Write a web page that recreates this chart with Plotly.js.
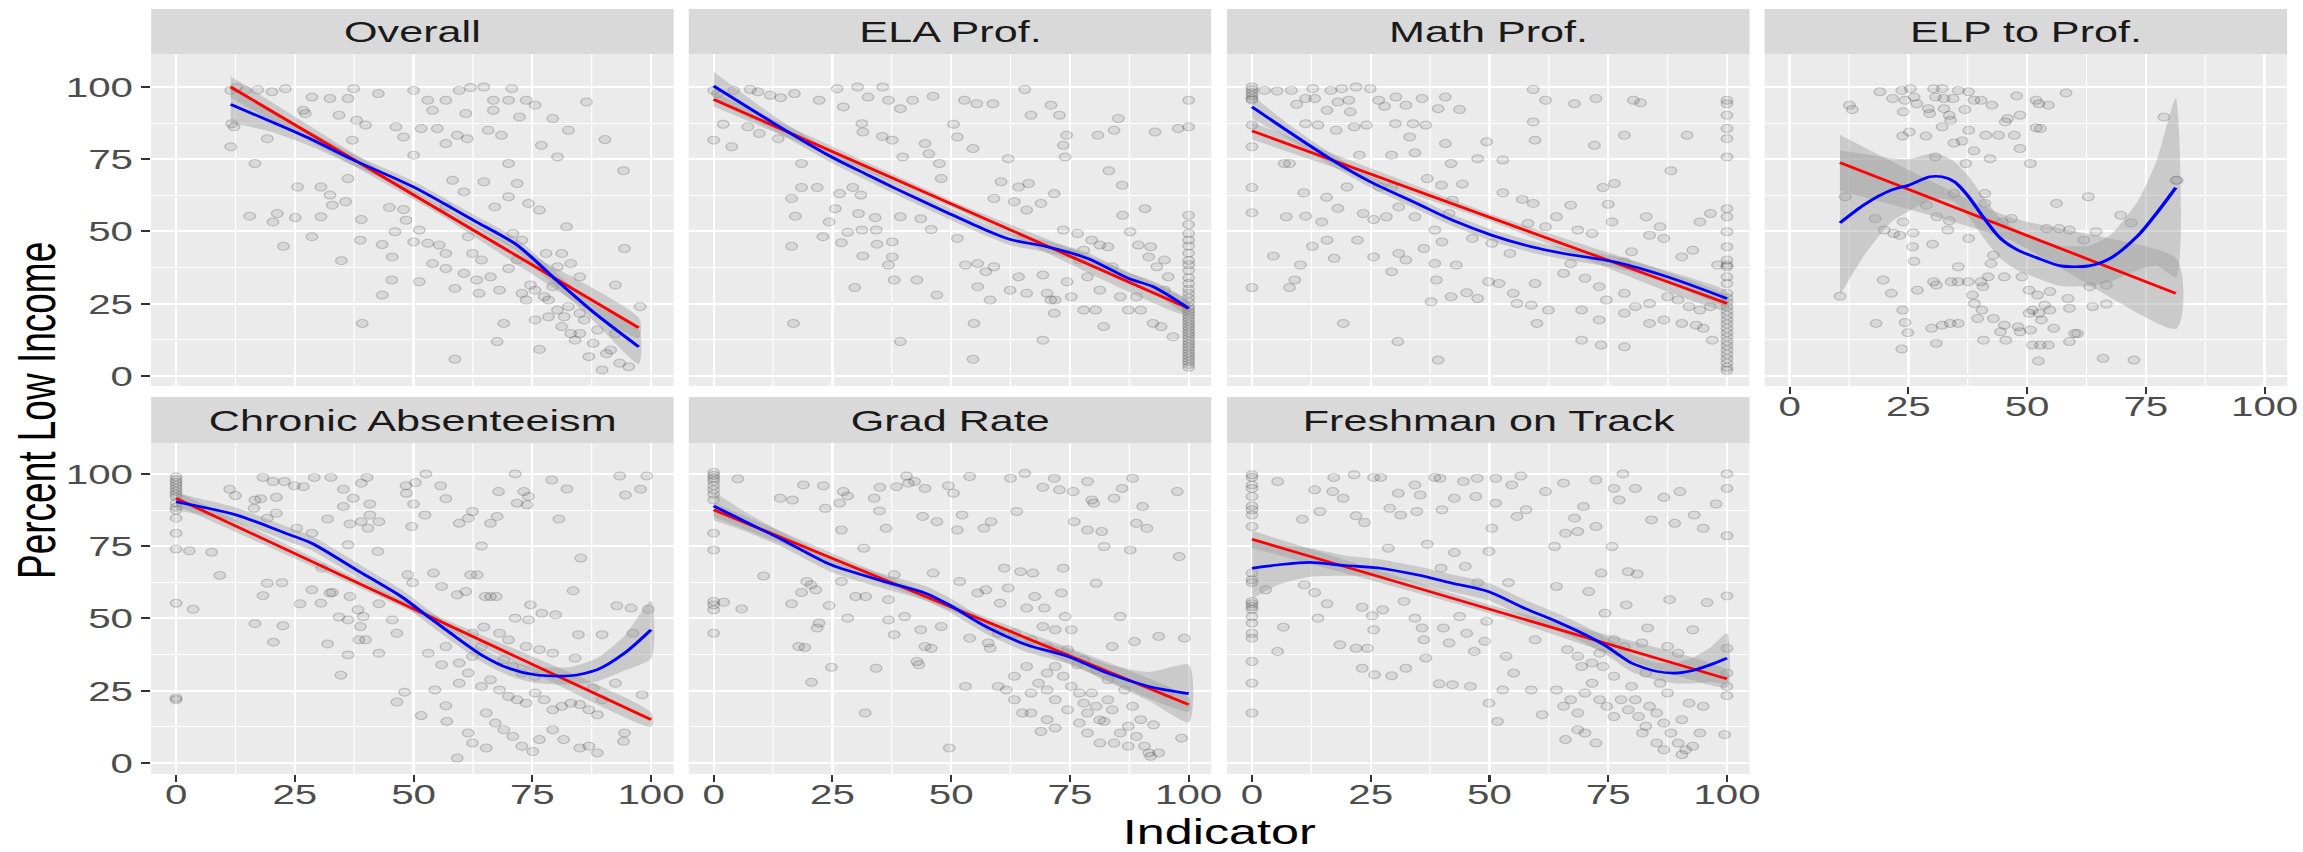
<!DOCTYPE html>
<html>
<head>
<meta charset="utf-8">
<script src="https://cdn.plot.ly/plotly-3.0.1.min.js"></script>
<style>
html,body{margin:0;padding:0;background:#fff;overflow:hidden;width:2303px;height:852px;}
#chart{width:1600px;height:852px;transform:scaleX(1.439375);transform-origin:0 0;}
</style>
</head>
<body>
<div id="chart"></div>
<script>
// ---------------- DATA ----------------
const panelNames = ["Overall", "ELA Prof.", "Math Prof.", "ELP to Prof.", "Chronic Absenteeism", "Grad Rate", "Freshman on Track"];
const xTicks = [0, 25, 50, 75, 100];
const yTicks = [0, 25, 50, 75, 100];

// scatter points [indicator, percent low income]
const overallPts = [
[11.5,98.8],[12.7,99.8],[14.6,98.8],[17.2,99],[20.2,98.3],[23,99.4],[11.7,87.3],[12.2,86.2],[11.5,79.3],[16.6,73.5],[19.2,82.1],[15.5,55.3],[20.4,53.3],[21.3,56.2],[25.1,54.8],[22.6,44.9],[25.6,65.4],[28.6,48.2],[30.5,65.4],[32.4,62.6],[32.9,59.1],[35.7,60.3],[30.5,55.1],[34.8,39.9],[36.2,68.3],[38.8,47],[39,54.1],[39.2,18.2],[43.4,28],[43.4,45.5],[45.4,33.2],[44.9,58.3],[47.9,57.6],[45.5,41.2],[46.1,49.9],[48.4,53.9],[50,46.4],[51.2,50.5],[51.2,32.6],[53,45.9],[55.4,45.3],[56.8,42.4],[58.7,5.8],[58.7,30.3],[61.5,48.2],[62.4,42.4],[64.3,40.1],[63.8,28.6],[66.2,34.3],[67.6,11.9],[69,18.2],[70,37.2],[71.8,40.1],[74.6,31.5],[75.6,19.4],[76.5,9.2],[77.5,27.4],[78.4,20.5],[79.3,30.9],[80.3,37.8],[81.2,17.1],[82.6,24],[84,12.4],[85,21.7],[86.9,6.7],[88.7,15.9],[89.7,2.1],[91.5,9],[92.5,14.7],[93.4,4.4],[95.3,3.2],[97.7,24],[94.2,71],[90.3,81.8],[94.4,44.1],[92.5,31.5],[85,34.3],[82.2,51.6],
[28.6,96.5],[32.4,96],[36.2,96],[37.4,99.4],[42.6,97.7],[50,98.8],[53,95.4],[56.8,95.4],[59.6,98.8],[62,99.8],[64.8,100],[66.8,95.4],[70,95.4],[70.7,99.4],[73.7,95.4],[75.6,93.7],[79.3,89.1],[82.6,85],[86.4,94.8],[72.3,89.6],[66.8,91.9],[61,90.8],[61.3,82.1],[59.2,83.3],[54,91.9],[56.8,80.4],[55,85.6],[51.6,85.6],[50,76.4],[46.3,86.2],[47.9,82.7],[38,88.5],[39.9,86.8],[34.3,90.2],[26.8,91.9],[27.2,90.8],[37.1,81.6],[65.7,85],[68.5,83.3],[76.9,79.8],[70,73.5],[71.8,66.6],[70,62],[76.5,57.4],[64.8,67.2],[60.6,63.7],[58.2,67.7],[67.1,58.5],[74.2,59.7],[80.3,75.8],[56.8,58.5],
[72.8,28.6],[73.7,26.3],[75.6,29.7],[78.4,26.3],[80.3,22.8],[81.7,20.5],[83.1,14.7],[85,14.7],[85.9,19.4],[87.8,11.3],[90.6,7.8],[77.9,42.4],[81.2,42.4],[83.1,38.9],[70.9,49.3],[72.8,47],[60.6,35.5],[56.8,37.2],[54,38.9],[63.3,33.2],[68.1,29.7]
];

const elaPts = [
[0,98.8],[0.8,97.7],[4.2,98.8],[7.7,99.1],[9.3,98.3],[11.9,97.1],[14.1,96.3],[17,97.7],[0,81.6],[2,87.1],[3.8,79.3],[7.2,86.2],[9.6,83.9],[13.6,82.1],
[26,99.4],[30.3,100],[35.6,100],[22.2,95.4],[27.3,93.1],[32.5,96.5],[36.8,95.4],[39.3,92.5],[41.9,95.4],[46.2,96.8],[52.8,95.4],[55.4,94.2],[58.8,94.2],[65.5,99.1],[71,93.7],[72.8,90.2],[66.8,90.2],[100,95.4],[100,86.2],[97.8,85.6],[92.9,84.4],[85.2,89.1],[84.3,85],[80.9,83.3],[74.3,83.3],[73.6,79.8],[74,75.8],[62,75.2],[50.5,87.1],[51.3,82.7],[44.5,80.4],[45.3,76.9],[39.8,75.8],[47.5,73.5],[31.4,84.4],[31.2,87.3],[37.6,81.6],[35.5,82.9],
[18.5,73.5],[18.5,65.2],[21.8,65.2],[16.4,61.4],[26.5,63.1],[29.3,65.2],[31,62.6],[17.2,55.3],[24.3,53.3],[25.6,57.9],[28.2,49.7],[30.5,56.2],[31.2,50.5],[34.2,50.5],[34,54.8],[37.6,46.4],[39.3,55.1],[43.6,54.4],[45.8,50.7],[47.9,68.3],[54.6,78.7],[60.5,67.2],[64.2,65.4],[66.3,66.6],[71.7,63.1],[68.9,59.7],[65.9,57.4],[63.3,60.3],[59,61.4],[83.2,71],[86,66],[90.8,57.9],[86.1,55.6],[23,48.2],[16.4,44.9],[26.9,46.1],[31.4,41.5],[34.4,45.6],[37.6,41.2],[36.8,38.4],[38,33.2],[42.8,33.2],[47,28],[29.7,30.6],[16.8,18.2],[39.3,11.9],[54.8,18.2],[54.6,5.8],[69.3,12.4],[71.7,21.7],
[51.3,47.6],[53,38.4],[55.6,38.9],[57.3,36.1],[59,37.8],[55.6,30.9],[58.2,26.3],[62.4,29.7],[65.9,28.6],[64.2,34.3],[69.3,34.9],[70.2,28.6],[71,26.3],[74.4,32.6],[75.3,42.4],[77,40.1],[77.9,43.5],[78.7,34.3],[81.3,29.7],[83,44.7],[83.9,37.8],[85.6,27.4],[87.3,22.8],[89,27.4],[89.9,22.8],[91.6,41.2],[93.3,37.8],[92.5,18.2],[94.2,17.1],[96.7,13.6],[95.7,34.3],[94.9,29.7],[80.4,22.8],[77.9,22.8],[82.1,17.1],[71.9,26.3],[75.3,27.4],[73.6,50.5],[76.6,49.3],[79.6,47],[81.3,45.3],[87.7,49.9],[89.4,45.3],[92,44.7],[94.9,40.1],
[100,55.6],[100,52.4],[100,49.3],[100,47],[100,45],[100,42.5],[100,40],[100,38.5],[100,36.5],[100,34],[100,32],[100,30],[100,28.5],[100,27],[100,25.5],[100,24],[100,23],[100,22],[100,21],[100,20],[100,19],[100,18],[100,17],[100,16],[100,15],[100,14],[100,13],[100,12],[100,11],[100,10],[100,9],[100,8],[100,7],[100,6],[100,5],[100,4],[100,3]
];

const mathPts = [
[0,100],[0,99],[0,98],[0,97],[0,96],[0,95.5],[0,86.8],[0,79.3],[0,65.2],[0,56.5],[0,30.6],
[2.6,98.8],[5.3,98.6],[8.3,98.8],[11.3,96],[13.2,96],[9.4,94],[12.8,99.4],[16.6,98.8],[18.9,99.4],[21.9,100],[24.9,99.4],[15.8,91.9],[18.1,94.8],[20.4,95.4],[20.7,91.4],[11.3,87.3],[13.9,86.8],[6.8,73.5],[7.9,73.5],[10.9,63.4],[7.2,55.1],[11.3,55.3],[7.9,30.6],[9,33.2],[4.5,41.5],[10.2,38.4],[12.7,44.9],[14.7,53.3],[15.7,61.8],[17.3,40.7],[19.2,18.2],[18.1,58],[21.5,86.2],[17.7,85],[20,65.4],[22.6,76.4],[24.1,86.8],[26.7,95.4],[27.9,93.3],[30.3,96.5],[32.4,93.7],[35.8,96],[39.2,92.5],[40.7,96.5],[43.7,92.2],[33.9,87.3],[36.6,86.8],[40.7,80.4],[30.2,87.3],[33.2,82.7],[29.4,76.4],[34.3,77.2],[41.9,73.5],[44.3,66.4],[47.5,75.2],[49.4,81],[52.8,74.7],[59.2,99.1],[59.2,87.9],[59.6,81.6],[61.8,95.4],[67.9,94.2],[72.4,96],[80.3,95.4],[81.8,94.5],[78.4,83.3],[72.1,79.8],[91.6,83.3],[88.2,71],[76.3,66.6],[73.9,65.2],[75,59.4],[67.1,59.1],[59.2,59.7],[56.9,61.1],[52.8,63.4],[42.2,60.8],[39.9,66],[36.9,68.3],[29.4,65.4],[26.8,65.4],[23.4,56.2],[25.6,54.1],[28.3,55.1],[30.9,58.5],[34.3,55.1],[38.5,50.5],[41.5,56.2],[46.4,47.6],[50.5,45.9],[54.3,42.4],[58.1,52.8],[61.8,51.6],[64.1,55.1],[68.6,50.5],[71.6,49.3],[75.8,53.3],[83,55.1],[85.9,51.6],[94.3,53.3],[96.5,56.2],[83.7,48.7],[86.7,47.6],[92.8,43.5],[90.5,41.2],[98,38.4],[79.9,43],[78.4,39.5],[67.1,38.9],[65.6,35.5],[70.1,33.8],[73.1,30.9],[74.6,26.3],[78.4,28.6],[80.7,24],[83.7,25.1],[87.5,27.4],[89.7,26.3],[92,24],[94.3,22.8],[96.5,24],[69.4,22.8],[73.1,19.4],[78.4,21.7],[83.7,18.2],[86.7,19.4],[90.5,18.2],[93.5,17.6],[95,16.5],[69.4,12.4],[73.5,10.7],[78.4,10.1],[96.9,12.4],[39.2,5.5],[30.7,11.9],[60,18.2],[62.4,22.8],[55.8,25.1],[58.8,24.5],[49.8,32.6],[47.5,26.8],[45.2,28.8],[41.9,27.4],[37.7,25.7],[38.8,33.2],[43,38.4],[38.5,38.9],[32.4,40.1],[29.4,36.1],[30.9,42.4],[25.6,41.2],[22.2,47],[15.8,47],[36.2,44.1],[40,46.4],[52,32],[55,28.6],[59.6,32],
[100,95.4],[100,94.2],[100,90.2],[100,85.6],[100,82.1],[100,75.8],[100,57.9],[100,55.1],[100,49.9],[100,44.7],[100,40.1],[100,38.4],[100,37.8],[100,34.3],[100,32],[100,28.6],[100,27],[100,25.5],[100,24],[100,22.5],[100,21],[100,19.5],[100,18],[100,16.5],[100,15],[100,13.5],[100,12],[100,10.5],[100,9],[100,7.5],[100,6],[100,4.5],[100,3],[100,2]
];

const elpPts = [
[19,98.3],[21.7,96],[23.6,98.8],[25.4,99.4],[26.2,96.5],[24.3,95.4],[26.8,94.2],[23.9,91.4],[12.6,93.7],[13.2,92.2],[29.2,92.5],[30.3,99.4],[30.7,96.5],[32.1,99.4],[32.5,96],[34.4,96],[35.5,98.8],[37.7,98.3],[38.8,95.4],[40.3,95.4],[42.6,93.7],[36.9,92.2],[32.5,92.5],[33.6,90.2],[33.9,88.5],[29.5,90.8],[47.8,96.9],[51.9,95.4],[52.5,94.2],[54.5,93.7],[58.2,97.9],[45.9,89.1],[45.4,87.9],[48.5,90.2],[51.9,85.9],[52.8,85.6],[32.1,86.2],[37.7,85],[25.2,84.4],[23.8,83],[28.7,83],[36.3,81.3],[34.6,80.6],[41.3,83.3],[44,83.3],[47.3,83.3],[48.5,78.7],[38.8,77.9],[42.2,75.2],[30.7,75.8],[37.1,73.5],[50.7,73.5],[78.8,89.6],[81.6,67.7],[11.7,62],[18,54.5],[19.9,50.5],[21.9,49.3],[23.2,48.7],[23.9,53.3],[26,49.5],[25.9,44.7],[26.2,39.7],[28.8,59.1],[31,55.1],[33.3,50.5],[34.6,63.1],[33.6,53.7],[37.7,47.6],[41.1,63.1],[41.1,59.7],[46.7,54.5],[44.8,53.3],[42.9,41.8],[42.4,38.9],[35.5,37.8],[30.1,45.6],[30.3,32.6],[30.9,31.5],[34,32.6],[35.5,32.6],[37.6,32.6],[40.3,32.6],[40.7,30.9],[41.8,34.3],[45.2,34.3],[48.9,34.3],[50.4,29.7],[52.2,28],[54.8,29.2],[56.2,59.7],[54.1,51],[56.7,51],[58.9,50.5],[62.9,62],[61.9,47],[58.6,26.8],[19.7,33.2],[21.4,28.6],[26.9,29.7],[10.6,27.6],[23.8,22.8],[24.3,18.5],[24.9,15],[18.2,18.2],[23.6,9.3],[29.9,16.5],[32.1,17.6],[33.8,18.2],[35.5,18.2],[30.9,11.3],[38.5,28],[38.9,25.1],[40.5,22.8],[39.6,19.9],[42.9,19.9],[44.4,15.3],[45.2,17.6],[48.1,17],[48.5,15.3],[50.7,15.9],[50.4,21.7],[51.1,22.8],[52.5,21.7],[53.7,24.5],[54.8,22.8],[53,19.4],[55.6,16.5],[58.9,23.4],[60,14.7],[60.6,14.7],[63.8,24],[66.7,24.9],[66,6.1],[72.5,5.5],[52.4,5.2],[40.8,12.4],[45.5,12.4],[51.1,10.7],[52.8,10.7],[54.5,10.7],[58.9,11.9],[63.2,30.9],[66.7,31.5],[69.7,55.6],[71.9,53],[64.5,49.9],[81.3,67.7]
];

const chronicPts = [
[0,99],[0,98],[0,97],[0,96],[0,95],[0,94],[0,93],[0,92],[0,90],[0,88.5],[0,87.5],[0,84.7],[0,79.5],[0,74],[0,55.3],[0,22.5],[0,21.9],
[2.8,73.4],[3.6,53.2],[7.5,72.9],[9.2,64.9],[11.3,94.7],[12.5,92.5],[16.6,91],[17.8,91.4],[18.3,98.8],[20.4,97.4],[22.8,97.4],[24.9,95.9],[26.8,95.6],[29.1,98.8],[32.6,98.8],[35.2,94.7],[39,96.8],[40.2,98.8],[37.3,91.6],[35.2,88.7],[31.9,84.4],[39,83.5],[40.8,85.8],[42.7,83.5],[40.4,81.2],[36.6,82.7],[40.8,89.6],[21.1,91.9],[19.2,84.7],[21.1,86.4],[25.4,81.2],[16.4,88.1],[48.4,95.9],[48.5,93.3],[50.4,97],[52.6,100],[50,89.6],[52.4,85.8],[55.7,95.9],[56.8,91.4],[62.4,87],[61.5,84.7],[59.6,82.9],[64.3,75.1],[66.2,82.9],[67.6,85.3],[67.9,93.9],[71.4,100],[73.2,93.9],[74.2,92.2],[71.8,89.9],[73.9,89.3],[79.1,97.9],[82.3,94.8],[80.6,84.4],[85.2,70.9],[93.4,99.3],[94.6,92.7],[97.8,94.7],[99.1,99.3],[49.6,81.8],[42.5,73.2],[28.6,79.5],[36.2,75.5],[30.7,67.4],[32.4,58.8],[32.9,59],[28.6,59.9],[26.1,55.1],[22.3,62.4],[19.2,62.2],[18.3,57.9],[30.5,55.3],[36.6,57.6],[38.3,53],[34.3,50.5],[36.2,49.5],[38.8,47.2],[39.4,50.7],[42.7,55.1],[45.5,49.5],[46.5,44.9],[31.9,41.2],[36.2,37.4],[34.7,30.4],[38.5,42.6],[39.9,42.6],[42.7,38],[16.6,48.2],[22.5,47.5],[20.5,41.8],[48.1,24.5],[46.5,21.1],[54.5,25.3],[51.6,16.4],[56.8,19.8],[59.2,1.7],[57,14.4],[48.8,65.1],[54.2,65.7],[49.8,62.4],[55.9,61.1],[59.2,58.2],[61,59.3],[62,65.1],[63.4,65.1],[65.1,57.6],[66.2,57.6],[67.4,57.6],[74.6,54.7],[83.6,59.6],[92.8,54.4],[95.8,53.6],[99.4,53.2],[96.2,44.9],[89.7,44.4],[84.7,44.4],[77,51.8],[79.9,51.3],[71.4,50.1],[74.2,49.5],[64.8,47],[62.4,44.9],[68.1,44.9],[70,42.6],[73.7,40.3],[76.5,39.2],[79.3,38],[84,36.3],[56.8,40.3],[53.1,38],[55.9,34],[59.6,34.6],[61.5,31.1],[59.6,27.6],[64.3,26.5],[66.2,28.8],[68.1,25.3],[70,23],[71.8,21.9],[73.7,20.7],[75.6,24.2],[77.5,21.9],[79.3,18.4],[81.2,19.6],[83.1,20.7],[85,20.2],[86.9,18.4],[88.7,16.7],[65.3,17.3],[67.2,13.8],[69,11.5],[70.9,9.2],[72.8,5.8],[75.1,4],[76.5,8.1],[79.3,11.5],[81.6,8.1],[85,5.2],[86.9,5.8],[88.7,3.5],[62.4,6.9],[61.5,10.4],[65.3,5.2],[94.4,10.4],[94.2,7.5],[98.1,23.6],[92.5,27.6],[89.7,21.9],[87.8,25.9],[72.8,31.1],[70.9,33.4],[75.6,30],[69,35.7],[62.4,36.9],[64.3,40.3]
];

const gradPts = [
[0,100.5],[0,99.5],[0,98.5],[0,97.5],[0,96],[0,94.5],[0,93],[0,91],[0,79.5],[0,73.7],[0,55.9],[0,54.7],[0,53],[0,44.9],
[2.1,55.6],[5.1,98.3],[5.9,53.3],[10.5,64.7],[14,91.6],[16.6,91],[16.4,55.1],[17.9,40.3],[19.2,40],[18.9,96.2],[19.6,62.8],[20.5,61.6],[21.5,59.9],[18.5,59],[20.6,27.9],[21.8,46.7],[22.2,48.4],[23.1,95.9],[23.5,88.1],[24.8,33.1],[24.3,54.5],[26.5,89.9],[26.9,80.6],[26.9,62.8],[27.3,93.9],[28.2,92.4],[28.2,50.1],[29.9,57.6],[31.6,74.3],[31.9,17.3],[32,57.6],[33.8,91.6],[34.2,32.8],[34.9,87.2],[35,95.4],[36.3,81.2],[36.8,56.5],[36.8,49.5],[38,44.4],[38,65.1],[38.5,95.6],[40.2,50.7],[40.6,99.3],[41,96.8],[42.3,97.4],[42.8,35.1],[43.2,34],[43.6,46.1],[44,85.3],[44.5,95],[44.5,40.3],[45.8,39.7],[46.2,65.7],[47,83.5],[47.9,47.2],[49.4,95.9],[49.6,5.2],[50.5,93.3],[51.3,80.6],[51.8,62.8],[52.3,85.8],[53,26.5],[53.9,99.1],[53.9,43.2],[55.6,58.8],[56.9,81.2],[57.3,59.9],[57.8,41.5],[58.2,39.7],[58.4,83.5],[59.9,26.5],[60.3,55.3],[61.2,67.4],[62,60.5],[62.5,98.5],[63.8,87],[64.6,66.2],[65.5,100.2],[65.9,53.6],[67.2,65.7],[67.6,57.6],[68.9,10.9],[69.3,95.4],[69.6,53.6],[70.2,25.3],[71.7,98.5],[71.9,21.9],[72.8,94.5],[73.2,58.8],[73.6,67.4],[74,50.7],[74.5,18.4],[75.3,46.1],[75.7,93.9],[75.9,83.5],[76.6,34],[77,13.8],[78.7,97.4],[78.7,80.6],[79.6,91],[80,89.9],[80.5,62.2],[81.7,80.1],[82.2,74.9],[82.2,14.4],[83.9,40.3],[84.3,91.6],[84.3,6.9],[85.6,50.7],[86,95],[87.7,73.7],[88.2,98.5],[88.6,42],[89,82.9],[90.3,88.7],[90.7,5.8],[91.2,81.2],[91.6,3.5],[92,2.3],[92.6,13.2],[93.7,43.8],[93.7,3.5],[95.5,24.2],[97.6,93.9],[98,71.4],[98.5,8.6],[99.1,43.2],
[61.6,25.3],[63.3,21.9],[65,17.3],[66.8,24.2],[68.4,27.6],[70.2,31.1],[71.9,33.4],[73.6,30],[75.3,26.5],[77,24.2],[77.9,20.7],[78.7,17.3],[79.6,24.2],[80.5,19.6],[81.3,14.9],[83,21.9],[83.9,18.4],[85.6,10.4],[87.3,12.7],[88.2,19.6],[89,9.2],[89.9,15],[86.5,25.3],[83,28.8],[80.5,32.3],[77.9,35.7],[74.5,39.2],[70.2,40.3],[66.8,42.6],[63.3,44.9],[59.9,44.9],[58.2,47.2],[69.3,47.2],[71.9,46.1],[65.9,33.4],[63.3,30],[66.8,17.3],[70.2,15],[71.9,12.1],[78.7,10.4],[81.3,6.9],[87.3,5.8]
];

const freshPts = [
[0,99.7],[0,98.8],[0,96.2],[0,95],[0,92.2],[0,88.9],[0,87.6],[0,85.8],[0,81.8],[0,65.7],[0,63.4],[0,62.4],[0,55.9],[0,55.1],[0,54.1],[0,53.2],[0,50.7],[0,48.4],[0,44.9],[0,43.2],[0,35.1],[0,27.6],[0,17.3],
[2.9,59.9],[5.4,97.4],[5.4,38.6],[6.6,47],[10.6,84.3],[11,61.6],[13.2,94.5],[13.2,59],[13.9,50.1],[14.3,87],[15.8,55.1],[17.2,98.8],[17,93.9],[18.5,40.9],[19.2,91.6],[21.9,85.5],[21.5,99.7],[21.9,39.7],[23.2,32.8],[23.7,83.2],[23.2,53.9],[24.3,39.7],[25.6,98.8],[25.8,30.5],[25.3,50.9],[25.6,46.1],[27.1,98.8],[27.5,53],[28.7,74.3],[29,88.1],[29.4,30.2],[30.8,93.3],[31.3,85.8],[32,55.9],[32.4,32.8],[34.3,96.2],[34.7,87],[34.3,50.1],[35.4,92.7],[35.8,46.7],[36.2,42.6],[36.6,36.3],[36.9,75.7],[38.5,98.8],[39.6,98.5],[39.4,27.4],[40,87.6],[39.8,67.4],[40.3,46.7],[41.5,41.5],[42.2,27.1],[42.6,91.6],[42.6,72.8],[43.7,50.7],[44.5,97.4],[44.9,68],[45.2,44.9],[46,26.5],[46.8,38.6],[47.1,92.2],[47.4,98.5],[47.5,62.4],[49,42.1],[49.4,49],[49.9,73.2],[49.9,20.7],[50.5,81.2],[51.3,98.5],[51.3,89.9],[51.7,14.4],[52.8,25.3],[53.5,36.9],[54,62.4],[54.7,96.2],[55.1,31.1],[55.8,85.3],[56.6,99.3],[57.7,87.6],[58.8,25.3],[59.6,42.6],[61.1,16.7],[61.8,93.9],[63.7,74.9],[64.1,61.1],[64.1,25.3],[65.6,96.8],[66,8.1],[66,79.5],[67.9,84.7],[68.6,80.1],[69.8,88.7],[70.9,59.3],[72.4,97.9],[72.4,81.8],[73.5,65.7],[74.3,51.8],[75.8,74.9],[76.2,95],[77.3,91],[78.1,100],[78.8,54.7],[79.2,66.2],[80.7,95],[81.1,65.4],[83.3,46.7],[84.1,84.1],[86.7,91.9],[87.9,56.5],[89,82.9],[90.1,93.9],[93.1,85.8],[95,81.2],[95.8,55.5],[97.7,89.6],[100,100],[100,95],[100,78.6],[100,57.8],[100,39.7],[100,31.1],[100,26.5],[100,23.3],[99.5,9.8],
[65.6,19.6],[67.1,21.9],[68.6,17.3],[70.1,24.2],[71.6,27.6],[73.2,21.9],[74.7,19.6],[76.2,16.1],[77.7,21.9],[79.2,18.4],[80.7,21.9],[81.4,16.1],[82.9,12.7],[83.7,19.6],[85.2,17.3],[86.7,13.8],[88.2,10.4],[89.7,6.9],[91.3,4.6],[92.8,5.8],[94.3,10.4],[90.5,15],[92,20.7],[95,19.6],[87.5,24.2],[85.9,27.6],[82.9,31.1],[79.9,26.5],[76.2,30],[73.9,33.4],[71.6,34.6],[68.6,36.9],[66.4,39.2],[69.4,33.4],[73.2,38],[76.2,42.6],[78.4,40.3],[82.1,41.5],[87.5,40.3],[89.7,38],[92.8,46.1],[68.6,11.5],[70.1,10.4],[72.4,6.9],[85.2,6.9],[86.7,4.6],[90.5,2.9],[82.2,10.4]
];

// linear fits (red): x, fitted value, band half-width
const overallLmX = [11.5, 55, 97.4], overallLmY = [100, 57.8, 16.7], overallLmW = [3.7, 1.5, 3.5];
const elaLmX = [0, 50, 100], elaLmY = [95.7, 59.55, 23.4], elaLmW = [2.5, 1.2, 2.5];
const mathLmX = [0, 50, 100], mathLmY = [84.8, 54.95, 25.1], mathLmW = [3, 1.3, 2.5];
const elpLmX = [10.6, 46, 81.3], elpLmY = [73.8, 51.2, 28.6], elpLmW = [9.7, 4, 12.3];
const chronicLmX = [0, 50, 100], chronicLmY = [91.6, 53.3, 15], chronicLmW = [2.5, 1.2, 2.5];
const gradLmX = [0, 50, 100], gradLmY = [87.6, 53.9, 20.2], gradLmW = [2.5, 1.2, 2.5];
const freshLmX = [0, 50, 100], freshLmY = [77.4, 53.25, 29.1], freshLmW = [3, 1.5, 3];

// loess fits (blue): x, fitted value, band half-width
const overallLoX = [11.5, 20, 28.6, 37.1, 50, 62.6, 71.8, 79.3, 87.8, 97.4];
const overallLoY = [94, 88, 81.8, 74.9, 65.4, 53.9, 45.3, 34.3, 22.2, 10.1];
const overallLoW = [6.5, 3.5, 2.5, 2, 2, 2, 2.2, 2.5, 3, 6];
const elaLoX = [0, 12.8, 24.8, 32.5, 37.6, 49.6, 57.3, 62.5, 70.2, 78.7, 87.3, 92.5, 100];
const elaLoY = [100.3, 87.3, 75.8, 69.5, 65.4, 56.2, 50.5, 47.2, 44.7, 40.7, 33.8, 30.9, 23.4];
const elaLoW = [5, 2.5, 2, 2, 2, 2, 2, 2, 2, 2, 2, 2, 2.5];
const mathLoX = [0, 8.3, 17.3, 24.9, 34.7, 42.2, 50.5, 58.8, 65.6, 76.2, 87.5, 100];
const mathLoY = [93.1, 83.9, 74.3, 67.2, 59.7, 53.9, 48.7, 44.7, 42.4, 39.5, 34.3, 26.8];
const mathLoW = [4, 2.5, 2, 2, 2, 2, 2, 2, 2, 2, 2, 2.5];
const elpLoX = [10.6, 16.1, 21.4, 25.1, 29.5, 32.1, 34.7, 37.7, 40.7, 44.4, 48.1, 51.9, 57.1, 63, 67.5, 73.4, 77.2, 81.3];
const elpLoY = [53, 59.7, 64.3, 66, 68.9, 68.9, 67.2, 62, 55.1, 47.6, 43.5, 41, 38.1, 38.1, 40.7, 48.7, 56.2, 65.2];
const elpLoW = [25, 17, 11, 9, 8, 7.5, 7, 7, 7, 7, 7, 7, 7, 7, 8, 12, 18, 31];
const chronicLoX = [0, 12.7, 23, 28.6, 38, 47.4, 53, 58.7, 64.3, 70, 75.6, 83, 88.7, 94.4, 100];
const chronicLoY = [90.4, 85.8, 79.5, 76, 66.8, 57.6, 50.7, 43.8, 37.4, 32.8, 30.5, 30.2, 32.3, 38, 46.1];
const chronicLoW = [3, 2.5, 2.5, 2.5, 2.5, 2.5, 2.5, 2.5, 2.5, 2.5, 2.8, 3, 4, 6, 10];
const gradLoX = [0, 5.9, 14.5, 24.8, 35.9, 44.5, 49.6, 57.3, 65.9, 74.5, 83, 91.6, 100];
const gradLoY = [88.9, 84.1, 77.2, 68.5, 62.8, 58.8, 54.7, 47.2, 40.9, 36.9, 31.1, 26.5, 24];
const gradLoW = [5, 3.5, 2.5, 2.5, 2.5, 2.5, 2.5, 2.5, 2.5, 2.5, 3, 5, 10];
const freshLoX = [0, 5.3, 12.1, 19.6, 27.1, 34.7, 42.2, 49.8, 57.3, 64.9, 70.1, 74.7, 79.9, 85.2, 89, 92.8, 96.5, 100];
const freshLoY = [67.4, 68.5, 69.4, 68.3, 67.4, 65.1, 62.2, 59.3, 53.6, 48.4, 44.4, 40.3, 34.6, 31.7, 31.1, 32, 34, 36.3];
const freshLoW = [10.6, 7, 5, 3.5, 3, 3, 3, 3, 3, 3, 3, 3, 3, 3, 3.5, 4.5, 6, 8.6];

// ---------------- LAYOUT / DRAWING ----------------
// The reference is a horizontally stretched picture; the chart is laid out at
// 1600px wide and stretched to 2303px by the CSS transform on #chart.
const W = 1600, H = 852;
const FONT = '"Liberation Sans", Arial, Helvetica, sans-serif';
const fx = p => p / W;
const fy = p => 1 - p / H;

const colLeft = [105, 478.5, 852.5, 1226];
const colWidth = 363;
const rows = [{strip: [9, 54], panel: [54, 386], yr: [-3.46, 111.4]},
              {strip: [397, 443], panel: [443, 774], yr: [-3.8, 110.7]}];
const xRange = [-5.25, 104.75];

const panels = [
  {pts: overallPts, lm: [overallLmX, overallLmY, overallLmW], lo: [overallLoX, overallLoY, overallLoW], r: 0, c: 0},
  {pts: elaPts, lm: [elaLmX, elaLmY, elaLmW], lo: [elaLoX, elaLoY, elaLoW], r: 0, c: 1},
  {pts: mathPts, lm: [mathLmX, mathLmY, mathLmW], lo: [mathLoX, mathLoY, mathLoW], r: 0, c: 2},
  {pts: elpPts, lm: [elpLmX, elpLmY, elpLmW], lo: [elpLoX, elpLoY, elpLoW], r: 0, c: 3},
  {pts: chronicPts, lm: [chronicLmX, chronicLmY, chronicLmW], lo: [chronicLoX, chronicLoY, chronicLoW], r: 1, c: 0},
  {pts: gradPts, lm: [gradLmX, gradLmY, gradLmW], lo: [gradLoX, gradLoY, gradLoW], r: 1, c: 1},
  {pts: freshPts, lm: [freshLmX, freshLmY, freshLmW], lo: [freshLoX, freshLoY, freshLoW], r: 1, c: 2}
];

const traces = [];
const layout = {
  width: W, height: H,
  margin: {l: 0, r: 0, t: 0, b: 0},
  paper_bgcolor: '#FFFFFF',
  plot_bgcolor: '#EBEBEB',
  showlegend: false,
  font: {family: FONT, color: '#4D4D4D'},
  shapes: [], annotations: []
};

function band(xs, ys, ws, ax) {
  const hi = ys.map((v, i) => v + ws[i]);
  const lo = ys.map((v, i) => v - ws[i]);
  return {
    type: 'scatter', mode: 'lines', xaxis: 'x' + ax, yaxis: 'y' + ax,
    x: xs.concat(xs.slice().reverse()),
    y: hi.concat(lo.slice().reverse()),
    fill: 'toself', fillcolor: 'rgba(153,153,153,0.4)',
    line: {width: 0, shape: 'spline', smoothing: 0.6}, hoverinfo: 'skip'
  };
}

panels.forEach((p, i) => {
  const n = i + 1;
  const ax = n === 1 ? '' : String(n);
  const c0 = colLeft[p.c], c1 = colLeft[p.c] + colWidth;
  const row = rows[p.r];
  const xLabels = (p.r === 1) || (p.c === 3);
  const yLabels = (p.c === 0);

  layout['xaxis' + ax] = {
    domain: [fx(c0), fx(c1)], range: xRange, anchor: 'y' + ax,
    tickmode: 'array', tickvals: xTicks, ticktext: xTicks.map(String),
    showgrid: true, gridcolor: '#FFFFFF', gridwidth: 1.6, zeroline: false, showline: false,
    minor: {tickmode: 'array', tickvals: [12.5, 37.5, 62.5, 87.5], showgrid: true, gridcolor: '#FFFFFF', gridwidth: 0.8, ticks: ''},
    ticks: xLabels ? 'outside' : '', ticklen: 7, tickwidth: 1.4, tickcolor: '#333333',
    ticklabelstandoff: -12,
    showticklabels: xLabels, tickfont: {family: FONT, size: 28, color: '#4D4D4D'},
    fixedrange: true
  };
  layout['yaxis' + ax] = {
    domain: [fy(row.panel[1]), fy(row.panel[0])], range: row.yr, anchor: 'x' + ax,
    tickmode: 'array', tickvals: yTicks, ticktext: yTicks.map(String),
    showgrid: true, gridcolor: '#FFFFFF', gridwidth: 2, zeroline: false, showline: false,
    minor: {tickmode: 'array', tickvals: [12.5, 37.5, 62.5, 87.5], showgrid: true, gridcolor: '#FFFFFF', gridwidth: 1, ticks: ''},
    ticks: yLabels ? 'outside' : '', ticklen: 6, tickwidth: 2, tickcolor: '#333333',
    showticklabels: yLabels, tickfont: {family: FONT, size: 28, color: '#4D4D4D'},
    fixedrange: true
  };

  // points
  traces.push({
    type: 'scatter', mode: 'markers', xaxis: 'x' + ax, yaxis: 'y' + ax,
    x: p.pts.map(d => d[0]), y: p.pts.map(d => d[1]),
    marker: {size: 8, color: 'rgba(0,0,0,0.08)', line: {color: 'rgba(0,0,0,0.18)', width: 1}},
    hoverinfo: 'skip', cliponaxis: true
  });
  traces.push(band(p.lm[0], p.lm[1], p.lm[2], ax));
  traces.push(band(p.lo[0], p.lo[1], p.lo[2], ax));
  traces.push({
    type: 'scatter', mode: 'lines', xaxis: 'x' + ax, yaxis: 'y' + ax,
    x: p.lm[0], y: p.lm[1], line: {color: '#FF0000', width: 2.6}, hoverinfo: 'skip'
  });
  traces.push({
    type: 'scatter', mode: 'lines', xaxis: 'x' + ax, yaxis: 'y' + ax,
    x: p.lo[0], y: p.lo[1], line: {color: '#0000FF', width: 2.6, shape: 'spline', smoothing: 0.8}, hoverinfo: 'skip'
  });

  // strip
  layout.shapes.push({
    type: 'rect', xref: 'paper', yref: 'paper', layer: 'below',
    x0: fx(c0), x1: fx(c1), y0: fy(row.strip[1]), y1: fy(row.strip[0]),
    fillcolor: '#D9D9D9', line: {width: 0}
  });
  layout.annotations.push({
    xref: 'paper', yref: 'paper', showarrow: false,
    x: fx((c0 + c1) / 2), y: fy((row.strip[0] + row.strip[1]) / 2),
    xanchor: 'center', yanchor: 'middle',
    text: panelNames[i], font: {family: FONT, size: 30, color: '#1A1A1A'}
  });
});

// axis titles
layout.annotations.push({
  xref: 'paper', yref: 'paper', showarrow: false,
  x: fx(847.5), y: fy(831), xanchor: 'center', yanchor: 'middle',
  text: 'Indicator', font: {family: FONT, size: 35, color: '#000000'}
});
layout.annotations.push({
  xref: 'paper', yref: 'paper', showarrow: false, textangle: -90,
  x: fx(25), y: fy(411), xanchor: 'center', yanchor: 'middle',
  text: 'Percent Low Income', font: {family: FONT, size: 37, color: '#000000'}
});

Plotly.newPlot('chart', traces, layout, {displayModeBar: false, staticPlot: true});
</script>
</body>
</html>
